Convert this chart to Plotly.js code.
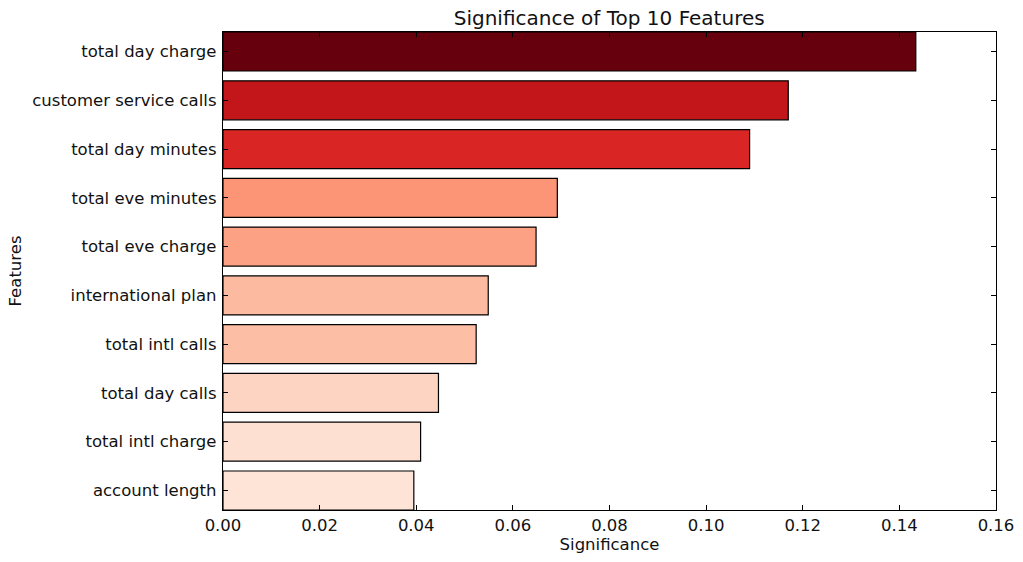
<!DOCTYPE html>
<html>
<head>
<meta charset="utf-8">
<script src="https://cdn.plot.ly/plotly-3.0.1.min.js"></script>
<style>html,body{margin:0;padding:0;background:#fff;}#chart{width:1023px;height:562px;}</style>
</head>
<body>
<div id="chart"></div>
<script>
const features = ["total day charge","customer service calls","total day minutes","total eve minutes","total eve charge","international plan","total intl calls","total day calls","total intl charge","account length"];
const significance = [0.1434,0.1170,0.1090,0.0692,0.0648,0.0549,0.0524,0.0446,0.0409,0.0395];
const barColors = ["#67000d","#c3161b","#d92624","#fc9575","#fca184","#fcbba1","#fcbfa6","#fdd4c2","#fee0d3","#fee3d7"];
const xTicks = [0,0.02,0.04,0.06,0.08,0.10,0.12,0.14,0.16];
const xTickText = ["0.00","0.02","0.04","0.06","0.08","0.10","0.12","0.14","0.16"];

const font = "DejaVu Sans, sans-serif";
const fs = 16.5;
Plotly.newPlot("chart", [{
  type: "bar",
  orientation: "h",
  x: significance,
  y: features,
  width: 0.8,
  marker: {color: barColors, line: {color: "#000", width: 1.2}},
  hoverinfo: "x+y"
}], {
  width: 1023, height: 562,
  margin: {l: 223, r: 27, t: 32, b: 52, pad: 0},
  paper_bgcolor: "#fff", plot_bgcolor: "#fff",
  font: {family: font, size: fs, color: "#111"},
  showlegend: false,
  title: {text: "Significance of Top 10 Features", font: {family: font, size: 20, color: "#111"}, x: 0.5955, xanchor: "center", y: 0.968, yanchor: "middle"},
  xaxis: {
    range: [0, 0.16], tickvals: xTicks, ticktext: xTickText,
    ticks: "inside", ticklen: 5, tickcolor: "#000", tickwidth: 1,
    showline: true, linecolor: "#000", linewidth: 1.2, mirror: "ticks",
    showgrid: false, zeroline: false,
    tickfont: {family: font, size: fs, color: "#111"},
    title: {text: "Significance", font: {family: font, size: fs, color: "#111"}, standoff: 4}
  },
  yaxis: {
    type: "category", categoryorder: "array", categoryarray: features,
    range: [9.4, -0.4],
    ticks: "inside", ticklen: 5, tickcolor: "#000", tickwidth: 1,
    showline: true, linecolor: "#000", linewidth: 1.2, mirror: "ticks",
    showgrid: false, zeroline: false,
    ticklabelstandoff: 2,
    tickfont: {family: font, size: fs, color: "#111"},
    title: {text: "Features", font: {family: font, size: fs, color: "#111"}, standoff: 6}
  }
}, {displayModeBar: false, staticPlot: true});
</script>
</body>
</html>
